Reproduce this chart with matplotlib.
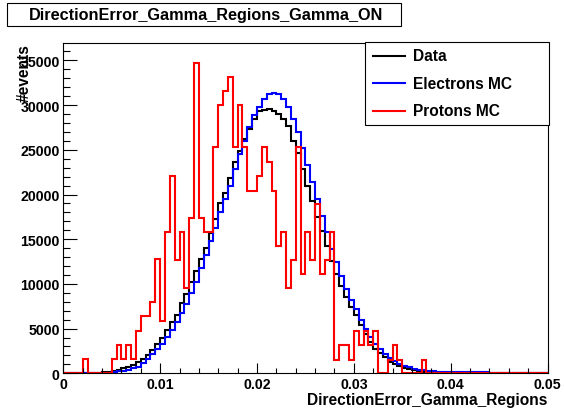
import numpy as np
import matplotlib.pyplot as plt
from matplotlib.patches import Rectangle

plt.rcParams['font.family'] = ['Liberation Sans', 'DejaVu Sans']
plt.rcParams['font.weight'] = 'bold'

# 100 bins from 0 to 0.05
bin_edges = np.linspace(0, 0.05, 101)

data_counts = [
    0, 0, 0, 0, 0, 0, 0, 0, 120, 200,
    300, 420, 560, 720, 950, 1250, 1550, 2050, 2650, 3250,
    4000, 4800, 5750, 6550, 7850, 8900, 10200, 11400, 12750, 14000,
    15700, 17300, 19000, 20200, 21900, 23600, 24900, 26200, 27300, 28400,
    29300, 29500, 29550, 29300, 29000, 28500, 27700, 26000, 24650, 22900,
    21000, 19250, 17500, 15900, 14280, 12600, 11100, 9750, 8500, 7400,
    6500, 5350, 4400, 3550, 2750, 2250, 1800, 1300, 1050, 800,
    600, 480, 370, 270, 200, 150, 110, 80, 60, 40,
    0, 0, 0, 0, 0, 0, 0, 0, 0, 0,
    0, 0, 0, 0, 0, 0, 0, 0, 0, 0,
]

electrons_mc = [
    0, 0, 0, 0, 30, 0, 0, 0, 0, 60,
    150, 220, 300, 400, 550, 750, 1100, 1550, 2150, 2700,
    3300, 4100, 4800, 5700, 6800, 7800, 9000, 10200, 11800, 13200,
    14800, 16300, 18000, 19500, 21000, 22800, 24500, 26000, 27500, 28900,
    29800, 30700, 31250, 31400, 31250, 30700, 29800, 28450, 26950, 25200,
    23300, 21400, 19500, 17650, 15800, 13900, 12400, 10900, 9450, 8200,
    7200, 6000, 5000, 4100, 3300, 2700, 2150, 1700, 1350, 1050,
    830, 650, 520, 420, 340, 280, 240, 200, 180, 160,
    140, 130, 120, 110, 100, 100, 90, 90, 80, 0,
    0, 0, 0, 0, 0, 0, 0, 0, 0, 0,
]

protons_mc = [
    0, 0, 0, 0, 1600, 0, 0, 0, 0, 0,
    1600, 3200, 1600, 3200, 1600, 4770, 6450, 6450, 8000, 12790,
    5890, 15850, 22110, 12710, 15850, 9510, 17340, 34720, 17340, 15850,
    15850, 25290, 30060, 31620, 33120, 25290, 30060, 25290, 20430, 20430,
    22110, 25290, 23680, 20430, 14280, 15850, 9510, 12710, 25290, 11110,
    15850, 12710, 18940, 11110, 12680, 15780, 1520, 3170, 3170, 1520,
    4770, 3170, 4770, 3170, 4770, 0, 0, 1520, 3170, 1520,
    0, 0, 0, 0, 1520, 0, 0, 0, 0, 0,
    0, 0, 0, 0, 0, 0, 0, 0, 0, 0,
    0, 0, 0, 0, 0, 0, 0, 0, 0, 0,
]

x_tick_labels = ['0', '0.01', '0.02', '0.03', '0.04', '0.05']

W, H = 564, 410
fig = plt.figure(figsize=(W / 100, H / 100), dpi=100)

# frame in pixel coordinates of the reference
left, right, top, bottom = 63.3, 547.5, 44, 374.3
ax = fig.add_axes([left / W, 1 - bottom / H, (right - left) / W, (bottom - top) / H])

ax.stairs(data_counts, bin_edges, color='black', lw=1.5, baseline=None)
ax.stairs(electrons_mc, bin_edges, color='#0000ff', lw=1.5, baseline=None)
ax.stairs(protons_mc, bin_edges, color='#ff0000', lw=1.5, baseline=None)

ax.set_xlim(0, 0.05)
ax.set_ylim(0, 36950)
ax.set_xticks(np.linspace(0, 0.05, 6))
ax.set_xticklabels(x_tick_labels)
ax.set_xticks(np.linspace(0, 0.05, 26), minor=True)
ax.set_yticks(np.arange(0, 35001, 5000))
ax.set_yticks(np.arange(0, 37000, 1000), minor=True)

ax.tick_params(axis='x', which='major', direction='in', length=7.2, width=0.8,
               labelsize=10.2, pad=3.0)
ax.tick_params(axis='x', which='minor', direction='in', length=3.6, width=0.8)
ax.tick_params(axis='y', which='major', direction='in', length=10.4, width=0.8,
               labelsize=10.2, pad=2.5)
ax.tick_params(axis='y', which='minor', direction='in', length=5.2, width=0.8)
for s in ax.spines.values():
    s.set_linewidth(0.8)

# axis titles, placed like ROOT does (at the far end of each axis)
fig.text(right / W, 1 - 405.5 / H, 'DirectionError_Gamma_Regions', ha='right',
         va='baseline', fontsize=11.2, fontweight='bold')
fig.text(24 / W, 1 - top / H, '#events', ha='center', va='top', rotation=90,
         fontsize=11.2, fontweight='bold')

# title box
fig.patches.append(Rectangle((7.3 / W, 1 - 27.3 / H), 393.7 / W, 23.3 / H,
                             transform=fig.transFigure, facecolor='white',
                             edgecolor='black', lw=0.8))
fig.text(206 / W, 1 - 15.7 / H, 'DirectionError_Gamma_Regions_Gamma_ON',
         ha='center', va='center', fontsize=11.7, fontweight='bold')

# legend box
lx0, lx1, ly0, ly1 = 365, 548.5, 43, 126
fig.patches.append(Rectangle((lx0 / W, 1 - ly1 / H), (lx1 - lx0) / W, (ly1 - ly0) / H,
                             transform=fig.transFigure, facecolor='white',
                             edgecolor='black', lw=0.8, zorder=5))
entries = [('Data', 'black'), ('Electrons MC', '#0000ff'), ('Protons MC', '#ff0000')]
for (label, col), yy in zip(entries, [56.7, 84.3, 111.7]):
    fig.lines.append(plt.Line2D([373 / W, 405 / W], [1 - yy / H, 1 - yy / H],
                                transform=fig.transFigure, color=col, lw=1.5, zorder=6))
    fig.text(412.7 / W, 1 - yy / H, label, ha='left', va='center',
             fontsize=11.2, fontweight='bold', zorder=6)

fig.savefig('out.png', dpi=100)
